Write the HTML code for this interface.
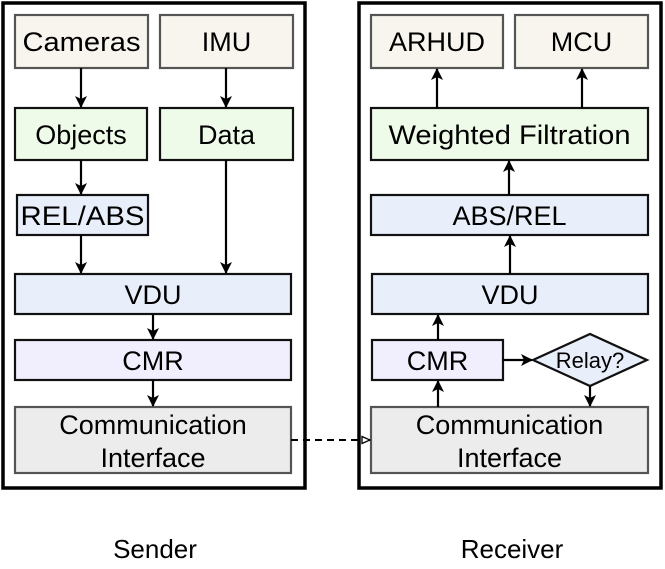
<!DOCTYPE html>
<html><head><meta charset="utf-8"><style>
html,body{margin:0;padding:0;background:#fff;}
svg{display:block;font-family:"Liberation Sans",Arial,sans-serif;}
</style></head><body>
<svg width="665" height="569" viewBox="0 0 665 569" xmlns="http://www.w3.org/2000/svg">
<defs>
<marker id="a" markerWidth="12" markerHeight="12" refX="11" refY="6" orient="auto" markerUnits="userSpaceOnUse"><path d="M0,0 L12,6 L0,12 L3,6 Z" fill="#000"/></marker>
<marker id="o" markerWidth="10" markerHeight="10" refX="9" refY="5" orient="auto" markerUnits="userSpaceOnUse"><path d="M1,1.5 L9,5 L1,8.5 Z" fill="#fff" stroke="#000" stroke-width="1.3"/></marker>
</defs>
<rect x="3" y="3" width="302" height="485" fill="none" stroke="#000" stroke-width="3.5"/>
<rect x="359" y="3" width="302" height="485" fill="none" stroke="#000" stroke-width="3.5"/>
<g stroke-width="2.2" font-size="27" text-anchor="middle">
<rect x="15" y="15" width="133" height="53" fill="#f7f5ed" stroke="#555"/>
<text x="81.5" y="51" textLength="118" lengthAdjust="spacingAndGlyphs">Cameras</text>
<rect x="160" y="15" width="133" height="53" fill="#f7f5ed" stroke="#555"/>
<text x="226.5" y="51">IMU</text>
<rect x="15" y="108" width="132" height="52" fill="#effbe9" stroke="#111"/>
<text x="81" y="144">Objects</text>
<rect x="160" y="108" width="133" height="52" fill="#effbe9" stroke="#111"/>
<text x="226.5" y="144">Data</text>
<rect x="17" y="195" width="131" height="40" fill="#e8eefa" stroke="#111"/>
<text x="82.5" y="225" textLength="124" lengthAdjust="spacingAndGlyphs">REL/ABS</text>
<rect x="15" y="274" width="276" height="40" fill="#e8eefa" stroke="#111"/>
<text x="153" y="304">VDU</text>
<rect x="15" y="340" width="276" height="40" fill="#f1effd" stroke="#111"/>
<text x="153" y="370">CMR</text>
<rect x="15" y="407" width="276" height="66" fill="#ececec" stroke="#555"/>
<text x="153" y="434">Communication</text>
<text x="153" y="467">Interface</text>

<rect x="371" y="15" width="132" height="53" fill="#f7f5ed" stroke="#555"/>
<text x="437" y="51">ARHUD</text>
<rect x="515" y="15" width="133" height="53" fill="#f7f5ed" stroke="#555"/>
<text x="581.5" y="51">MCU</text>
<rect x="371" y="108" width="277" height="52" fill="#effbe9" stroke="#111"/>
<text x="509.5" y="144" textLength="242" lengthAdjust="spacingAndGlyphs">Weighted Filtration</text>
<rect x="371" y="195" width="277" height="40" fill="#e8eefa" stroke="#111"/>
<text x="509.5" y="225">ABS/REL</text>
<rect x="372" y="274" width="276" height="40" fill="#e8eefa" stroke="#111"/>
<text x="510" y="304">VDU</text>
<rect x="372" y="340" width="131" height="40" fill="#f1effd" stroke="#111"/>
<text x="437.5" y="370">CMR</text>
<polygon points="533,360 590,334 647,360 590,386" fill="#e8eefa" stroke="#111"/>
<text x="590" y="368" font-size="22">Relay?</text>
<rect x="371" y="407" width="277" height="66" fill="#ececec" stroke="#555"/>
<text x="509.5" y="434">Communication</text>
<text x="509.5" y="467">Interface</text>
</g>
<g stroke="#000" stroke-width="2.2" fill="none" marker-end="url(#a)">
<line x1="81" y1="68" x2="81" y2="107"/>
<line x1="226" y1="68" x2="226" y2="107"/>
<line x1="81" y1="160" x2="81" y2="194"/>
<line x1="81" y1="235" x2="81" y2="273"/>
<line x1="226" y1="160" x2="226" y2="273"/>
<line x1="153" y1="314" x2="153" y2="339"/>
<line x1="153" y1="380" x2="153" y2="406"/>
<line x1="437" y1="108" x2="437" y2="69"/>
<line x1="582" y1="108" x2="582" y2="69"/>
<line x1="509" y1="195" x2="509" y2="161"/>
<line x1="510" y1="274" x2="510" y2="236"/>
<line x1="438" y1="340" x2="438" y2="315"/>
<line x1="438" y1="407" x2="438" y2="381"/>
<line x1="503" y1="360" x2="532" y2="360"/>
<line x1="590" y1="386" x2="590" y2="406"/>
</g>
<line x1="291" y1="440" x2="370" y2="440" stroke="#000" stroke-width="2" stroke-dasharray="7,5" marker-end="url(#o)"/>
<g font-size="26" text-anchor="middle">
<text x="155" y="558">Sender</text>
<text x="512" y="558">Receiver</text>
</g>
</svg>
</body></html>
